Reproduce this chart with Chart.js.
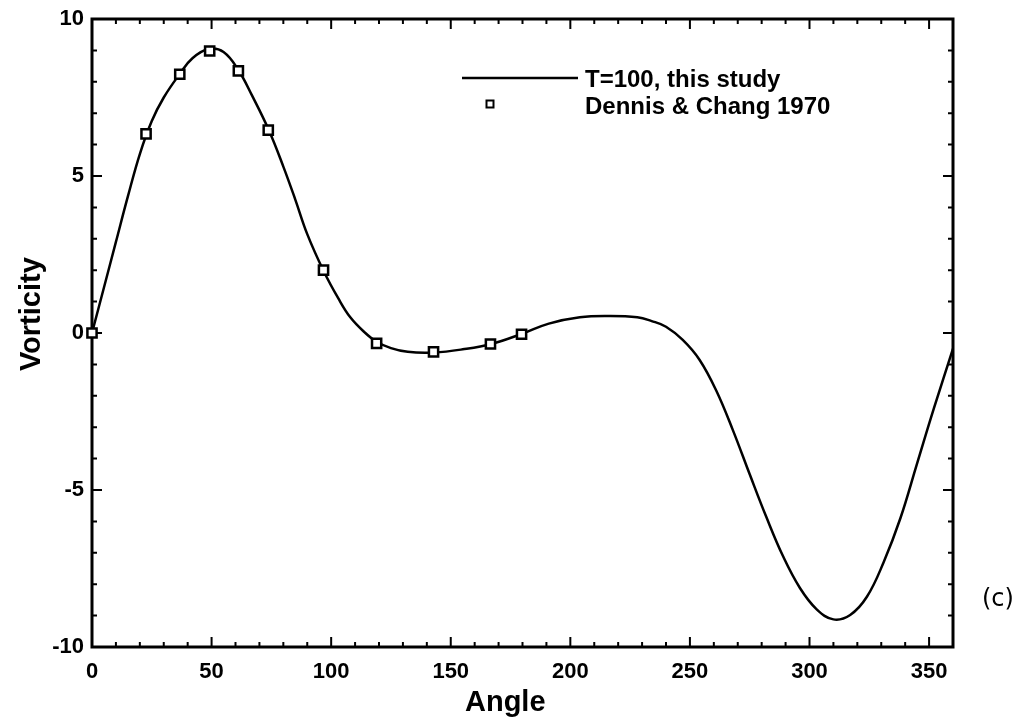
<!DOCTYPE html>
<html>
<head>
<meta charset="utf-8">
<script src="https://cdn.jsdelivr.net/npm/chart.js@4.4.1/dist/chart.umd.min.js"></script>
<style>
  html, body { margin: 0; padding: 0; background: #ffffff; }
  #wrap { position: relative; width: 1025px; height: 728px; }
  canvas { display: block; }
</style>
</head>
<body>
<div id="wrap"><canvas id="c" width="1025" height="728"></canvas></div>
<script>
// Computed vorticity along the cylinder surface, T = 100
const curveAngle = [0, 5, 10, 15, 20, 25, 30, 36.7, 42, 49, 55, 61, 67, 74, 80, 85, 90, 97, 103, 108, 114, 119, 125, 132, 143, 155, 167, 180, 191, 204, 216, 228, 234, 240, 247, 254, 261, 268, 275, 282, 289, 296, 303, 310, 317, 324, 331, 338, 345, 352, 360];
const curveVorticity = [0, 1.45, 2.9, 4.35, 5.7, 6.75, 7.5, 8.25, 8.75, 9.05, 8.95, 8.4, 7.55, 6.45, 5.3, 4.25, 3.15, 1.95, 1.1, 0.5, 0.02, -0.28, -0.48, -0.6, -0.62, -0.52, -0.35, -0.02, 0.3, 0.5, 0.54, 0.5, 0.38, 0.2, -0.22, -0.85, -1.83, -3.1, -4.5, -5.87, -7.12, -8.12, -8.8, -9.12, -8.98, -8.4, -7.3, -5.9, -4.15, -2.4, -0.5];

// Dennis & Chang (1970) reference values
const refAngle = [0, 22.6, 36.7, 49.2, 61.2, 73.7, 96.8, 119, 142.8, 166.6, 179.6];
const refVorticity = [0, 6.34, 8.24, 8.98, 8.35, 6.46, 2.0, -0.33, -0.6, -0.35, -0.04];

const xTickValues = [0, 50, 100, 150, 200, 250, 300, 350];
const yTickValues = [-10, -5, 0, 5, 10];

const seriesLabels = ['T=100, this study', 'Dennis & Chang 1970'];
const xTitle = 'Angle';
const yTitle = 'Vorticity';
const panelTag = '(c)';

const FONT = '"Liberation Sans", Arial, Helvetica, sans-serif';

const curvePoints = curveAngle.map((a, i) => ({ x: a, y: curveVorticity[i] }));
const refPoints = refAngle.map((a, i) => ({ x: a, y: refVorticity[i] }));

// Frame on all four sides with inward major/minor ticks
const framePlugin = {
  id: 'frame',
  beforeDatasetsDraw(chart) {
    const { ctx, chartArea: a, scales } = chart;
    const xs = scales.x, ys = scales.y;
    ctx.save();
    ctx.strokeStyle = '#000';
    ctx.lineCap = 'butt';
    ctx.lineWidth = 2;
    ctx.beginPath();
    for (let v = 0; v <= 360; v += 10) {
      const px = xs.getPixelForValue(v);
      const len = v % 50 === 0 ? 10 : 5;
      ctx.moveTo(px, a.bottom); ctx.lineTo(px, a.bottom - len);
      ctx.moveTo(px, a.top); ctx.lineTo(px, a.top + len);
    }
    for (let v = -10; v <= 10; v += 1) {
      const py = ys.getPixelForValue(v);
      const len = v % 5 === 0 ? 10 : 5;
      ctx.moveTo(a.left, py); ctx.lineTo(a.left + len, py);
      ctx.moveTo(a.right, py); ctx.lineTo(a.right - len, py);
    }
    ctx.stroke();
    ctx.lineWidth = 3;
    ctx.strokeRect(a.left, a.top, a.right - a.left, a.bottom - a.top);
    ctx.restore();
  }
};

// Axis titles, legend and panel tag
const annotatePlugin = {
  id: 'annotate',
  afterDraw(chart) {
    const { ctx, chartArea: a } = chart;
    ctx.save();
    ctx.fillStyle = '#000';
    ctx.font = 'bold 29px ' + FONT;
    ctx.textAlign = 'center';
    ctx.textBaseline = 'alphabetic';
    ctx.fillText(xTitle, a.left + (a.right - a.left) * 0.48, 711);
    ctx.save();
    ctx.translate(40, a.top + (a.bottom - a.top) * 0.47);
    ctx.rotate(-Math.PI / 2);
    ctx.fillText(yTitle, 0, 0);
    ctx.restore();

    // legend
    ctx.strokeStyle = '#000';
    ctx.lineWidth = 2.5;
    ctx.beginPath();
    ctx.moveTo(462, 78); ctx.lineTo(578, 78);
    ctx.stroke();
    ctx.lineWidth = 2;
    ctx.fillStyle = '#fff';
    ctx.fillRect(486.5, 100.5, 7, 7);
    ctx.strokeRect(486.5, 100.5, 7, 7);
    ctx.fillStyle = '#000';
    ctx.font = 'bold 24px ' + FONT;
    ctx.textAlign = 'left';
    ctx.textBaseline = 'middle';
    ctx.fillText(seriesLabels[0], 585, 80);
    ctx.fillText(seriesLabels[1], 585, 107);

    ctx.font = '24px "DejaVu Sans", sans-serif';
    ctx.fillText(panelTag, 982, 600);
    ctx.restore();
  }
};

new Chart(document.getElementById('c'), {
  type: 'scatter',
  data: {
    datasets: [
      {
        label: seriesLabels[0],
        data: curvePoints,
        showLine: true,
        borderColor: '#000',
        borderWidth: 2.5,
        pointRadius: 0,
        tension: 0.4,
        order: 2
      },
      {
        label: seriesLabels[1],
        data: refPoints,
        showLine: false,
        clip: false,
        pointStyle: 'rect',
        pointRadius: 6.5,
        pointBorderWidth: 2.5,
        pointBorderColor: '#000',
        pointBackgroundColor: '#fff',
        order: 1
      }
    ]
  },
  options: {
    responsive: false,
    animation: false,
    devicePixelRatio: 1,
    layout: { padding: { left: 0, right: 72, top: 19, bottom: 0 } },
    plugins: { legend: { display: false }, tooltip: { enabled: false } },
    scales: {
      x: {
        type: 'linear',
        min: 0, max: 360,
        grid: { display: false },
        border: { display: false },
        afterFit(scale) { scale.height = 81; },
        afterBuildTicks(scale) { scale.ticks = xTickValues.map(v => ({ value: v })); },
        ticks: {
          color: '#000',
          padding: 4,
          maxRotation: 0,
          font: { family: FONT, size: 22, weight: 'bold' }
        }
      },
      y: {
        type: 'linear',
        min: -10, max: 10,
        grid: { display: false },
        border: { display: false },
        afterFit(scale) { scale.width = 92; },
        afterBuildTicks(scale) { scale.ticks = yTickValues.map(v => ({ value: v })); },
        ticks: {
          color: '#000',
          padding: 0,
          font: { family: FONT, size: 22, weight: 'bold' }
        }
      }
    }
  },
  plugins: [framePlugin, annotatePlugin]
});
</script>
</body>
</html>
